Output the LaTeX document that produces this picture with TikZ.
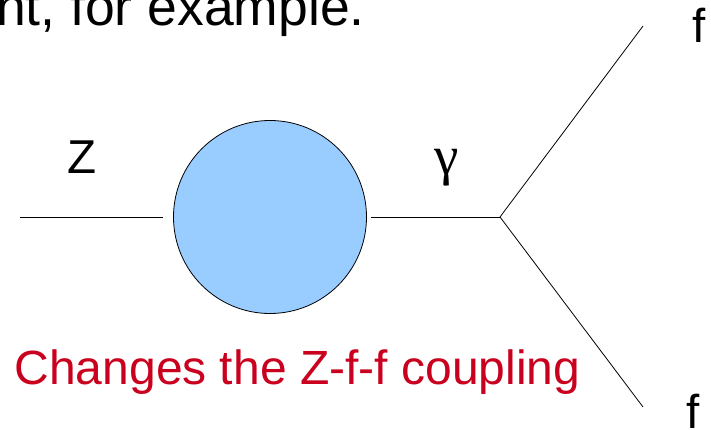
\documentclass[tikz,border=0pt]{standalone}
\usepackage{fontspec}
\setmainfont{Liberation Sans}
\newfontfamily\serifgr{Liberation Serif}
\definecolor{blobblue}{HTML}{99CCFF}
\definecolor{capred}{HTML}{C9001E}
\begin{document}
\begin{tikzpicture}[x=1pt,y=1pt,
  line/.style={draw=black,line width=0.8pt},
  lbl/.style={inner sep=0pt,outer sep=0pt,font=\fontsize{47.5}{50}\selectfont}]
\useasboundingbox (0,0) rectangle (711,430);
\node[lbl,anchor=base west,font=\fontsize{53.5}{56}\selectfont] (top) at (-4,404) {nt, for example.};
\node[circle,draw=black,line width=0.8pt,fill=blobblue,minimum size=193pt,inner sep=0pt] (blob) at (270,213) {};
\coordinate (zin) at (20,213);
\coordinate (v) at (500,213);
\coordinate (fa) at (643,404);
\coordinate (fb) at (643,23);
\draw[line,shorten >=10pt] (zin) -- (blob.west);
\draw[line,shorten <=4pt] (blob.east) -- (v);
\draw[line] (v) -- (fa);
\draw[line] (v) -- (fb);
\node[lbl,anchor=base west] (zl) at (67,256) {Z};
\node[lbl,anchor=base,font=\serifgr\fontsize{55}{58}\selectfont] (gl) at (447,255) {γ};
\node[lbl,anchor=base west] (f1) at (692,387) {f};
\node[lbl,anchor=base west] (f2) at (686,1) {f};
\node[lbl,anchor=base west,text=capred,font=\fontsize{48}{50}\selectfont] (cap) at (14.6,45) {Changes the Z-f-f coupling};
\end{tikzpicture}
\end{document}
